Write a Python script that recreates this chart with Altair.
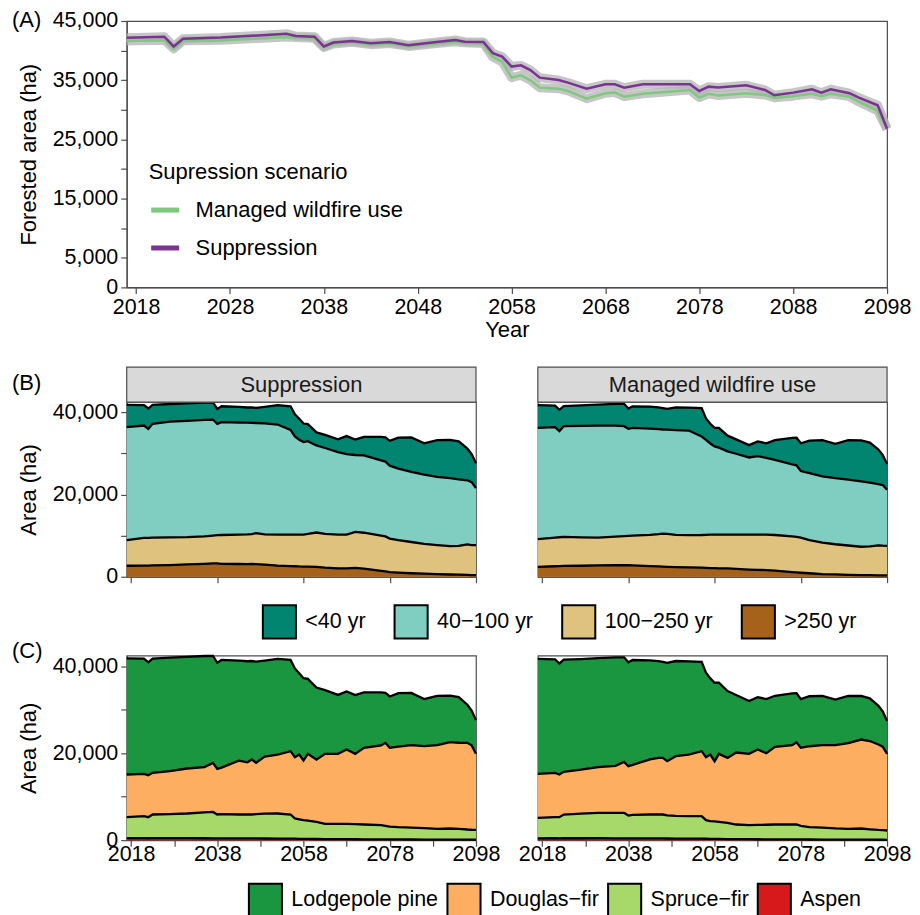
import altair as alt
import pandas as pd

# ---------------- Panel A: forested area per scenario ----------------
a_years = [2017, 2018, 2021, 2022, 2023, 2027, 2031, 2034, 2035, 2037,
           2038, 2039, 2041, 2043, 2045, 2047, 2050, 2052, 2053, 2055,
           2056, 2057, 2058, 2059, 2060, 2061, 2063, 2064, 2066, 2068,
           2069, 2070, 2072, 2074, 2077, 2078, 2079, 2080, 2083, 2085,
           2086, 2088, 2090, 2091, 2092, 2094, 2095, 2097, 2098]
a_suppression = [42180, 42200, 42350, 40700, 42000, 42200, 42550, 42850, 42450, 42350,
                 40700, 41350, 41620, 41250, 41450, 40900, 41450, 41800, 41500, 41450,
                 39550, 38970, 37300, 37500, 36700, 35430, 35040, 34590, 33570, 34310,
                 34310, 33740, 34310, 34310, 34310, 33180, 33910, 33750, 34140, 33350,
                 32450, 32900, 33470, 32900, 33470, 32800, 32050, 30770, 26800]
a_managed = [41600, 41650, 41750, 40300, 41650, 41750, 42050, 42300, 42200, 42100,
             40500, 41100, 41400, 41000, 41200, 40700, 41200, 41500, 41300, 41200,
             38900, 38080, 35430, 35830, 35000, 33740, 33570, 33180, 31880, 32800,
             32900, 32220, 32700, 32970, 33350, 32050, 32700, 32400, 32800, 32500,
             32050, 32300, 32700, 32300, 32700, 32220, 31320, 29810, 26700]

# ---------------- Panels B and C: stacked boundaries (top of each class) ----------------
years = [2017, 2021, 2022, 2023, 2027, 2031, 2035, 2037, 2038, 2039,
         2043, 2045, 2046, 2047, 2049, 2052, 2055, 2056, 2057, 2058,
         2059, 2061, 2063, 2066, 2068, 2070, 2072, 2076, 2077, 2078,
         2080, 2083, 2086, 2089, 2092, 2094, 2096, 2097, 2098]

sup_total = [41800, 41750, 40900, 41770, 42000, 42150, 42350, 42400, 40800, 41450,
             41300, 41150, 41200, 41050, 41300, 41700, 41450, 39500, 38400, 37250,
             37100, 35100, 34500, 33400, 34200, 33350, 34000, 34000, 33900, 33050,
             33800, 33850, 32450, 33200, 33250, 32900, 31150, 29800, 27600]
man_total = [41700, 41600, 40600, 41500, 41650, 41850, 42050, 42050, 40900, 41430,
             41350, 41200, 41000, 40800, 41200, 41100, 41000, 38500, 37200, 36200,
             36200, 34300, 33400, 32000, 32900, 32450, 33200, 33780, 33800, 32450,
             33100, 33200, 32330, 33200, 33150, 32600, 30900, 29600, 27400]

# age classes (B)
sup_top_40_100 = [36360, 36760, 35960, 37170, 37730, 37900, 38150, 38220, 37170, 37570,
                  37500, 37450, 37410, 37380, 37300, 37000, 35700, 34100, 33300, 32730,
                  32970, 31920, 31300, 30300, 29800, 29600, 29490, 28300, 28000, 27000,
                  26300, 25500, 24850, 24300, 24000, 23700, 23450, 23000, 21570]
sup_top_100_250 = [8890, 9450, 9450, 9500, 9550, 9620, 9800, 10000, 10100, 10150,
                   10260, 10300, 10350, 10600, 10300, 10260, 10260, 10260, 10260, 10260,
                   10400, 10750, 10400, 10260, 10260, 10910, 10700, 10000, 9800, 9290,
                   8900, 8450, 8000, 7680, 7430, 7510, 7850, 7700, 7680]
sup_top_250 = [2670, 2700, 2720, 2750, 2830, 3000, 3150, 3230, 3230, 3150,
               3100, 3050, 3100, 3070, 2950, 2700, 2600, 2550, 2500, 2480,
               2450, 2420, 2200, 2020, 2050, 2180, 1950, 1450, 1300, 1100,
               980, 850, 750, 650, 550, 500, 450, 420, 400]
man_top_40_100 = [36200, 36360, 35390, 36600, 36700, 36760, 36760, 36600, 35960, 36200,
                  36000, 35900, 35800, 35750, 35650, 35550, 34100, 33300, 32400, 31700,
                  31400, 30500, 29900, 29000, 29300, 28900, 28400, 27300, 27100, 25700,
                  25200, 24400, 24000, 23600, 23200, 22900, 22500, 22300, 21170]
man_top_100_250 = [9130, 9500, 9600, 9700, 9580, 9530, 9750, 9900, 9940, 10000,
                   10200, 10350, 10500, 10400, 10200, 10100, 10150, 10200, 10250, 10260,
                   10260, 10260, 10260, 10260, 10260, 10260, 10150, 9800, 9700, 9500,
                   8900, 8300, 7900, 7600, 7300, 7400, 7650, 7550, 7510]
man_top_250 = [2420, 2550, 2600, 2620, 2670, 2750, 2800, 2830, 2800, 2750,
               2600, 2500, 2450, 2420, 2350, 2300, 2200, 2150, 2100, 2080,
               2050, 2020, 1900, 1750, 1680, 1620, 1500, 1150, 1050, 970,
               850, 650, 570, 480, 400, 380, 340, 330, 320]

# species (C)
sup_top_douglas = [15100, 15250, 14940, 15480, 15900, 16480, 16800, 17780, 16400, 16700,
                   18300, 17900, 18550, 17800, 19200, 19690, 20460, 19080, 19690, 18320,
                   19850, 18550, 19850, 19850, 20840, 19850, 21230, 21800, 22380, 21230,
                   21500, 21840, 21610, 21840, 22530, 22400, 22380, 21800, 19850]
sup_top_spruce = [5290, 5520, 5290, 5900, 6000, 6130, 6400, 6500, 5900, 6000,
                  5900, 5900, 5900, 6000, 6100, 6130, 5900, 5000, 4800, 4600,
                  4500, 4200, 3750, 3750, 3750, 3700, 3600, 3450, 3300, 3100,
                  2990, 2900, 2750, 2610, 2680, 2600, 2450, 2400, 2380]
sup_top_aspen = [450, 460, 440, 450, 450, 460, 440, 430, 420, 420,
                 410, 400, 400, 390, 380, 370, 360, 340, 320, 300,
                 290, 270, 250, 230, 220, 210, 200, 190, 180, 170,
                 160, 150, 140, 130, 120, 120, 110, 110, 100]
man_top_douglas = [15250, 15480, 15100, 15710, 16200, 16780, 17100, 18010, 17010, 17300,
                   18600, 18930, 18930, 18160, 19310, 19690, 20460, 19080, 19690, 18160,
                   19850, 18930, 20150, 19850, 20840, 20000, 21460, 21840, 22530, 21230,
                   21600, 21840, 21840, 22300, 23140, 22800, 21990, 21500, 19850]
man_top_spruce = [5130, 5290, 5290, 5900, 6100, 6280, 6280, 6280, 5670, 5800,
                  5900, 5900, 5900, 5700, 5600, 5520, 5520, 4600, 4400, 4300,
                  4200, 3980, 3600, 3450, 3500, 3550, 3600, 3600, 3600, 3300,
                  3000, 2900, 2700, 2610, 2680, 2500, 2350, 2300, 2220]
man_top_aspen = [430, 440, 430, 440, 440, 450, 430, 420, 410, 410,
                 400, 390, 390, 380, 370, 360, 350, 330, 310, 290,
                 280, 260, 240, 220, 210, 200, 190, 180, 170, 160,
                 150, 140, 130, 120, 110, 110, 100, 100, 90]

SCEN = ["Suppression", "Managed wildfire use"]
AGE = ["<40 yr", "40\u2212100 yr", "100\u2212250 yr", ">250 yr"]
AGE_COLORS = ["#018571", "#80cdc1", "#dfc27d", "#a6611a"]
SPP = ["Lodgepole pine", "Douglas\u2212fir", "Spruce\u2212fir", "Aspen"]
SPP_COLORS = ["#1a9641", "#fdae61", "#a6d96a", "#d7191c"]
LINE_COLORS = ["#7fc97f", "#7b3294"]

# ---------------- tables ----------------
rows_a = []
for s, vals in [("Managed wildfire use", a_managed), ("Suppression", a_suppression)]:
    for y, v in zip(a_years, vals):
        rows_a.append({"year": y, "scenario": s, "area": v})
df_a = pd.DataFrame(rows_a)

zero = [0] * len(years)


def band_rows(scen, classes, bounds):
    out = []
    for i, c in enumerate(classes):
        hi, lo = bounds[i], bounds[i + 1]
        for y, h, l in zip(years, hi, lo):
            out.append({"scenario": scen, "group": c, "year": y, "hi": h, "lo": l})
    return pd.DataFrame(out)


b_tables = {
    "Suppression": band_rows("Suppression", AGE,
                             [sup_total, sup_top_40_100, sup_top_100_250, sup_top_250, zero]),
    "Managed wildfire use": band_rows("Managed wildfire use", AGE,
                                      [man_total, man_top_40_100, man_top_100_250, man_top_250, zero]),
}
c_tables = {
    "Suppression": band_rows("Suppression", SPP,
                             [sup_total, sup_top_douglas, sup_top_spruce, sup_top_aspen, zero]),
    "Managed wildfire use": band_rows("Managed wildfire use", SPP,
                                      [man_total, man_top_douglas, man_top_spruce, man_top_aspen, zero]),
}

GREY = "#4d4d4d"
TAG_X = -115
W_A, H_A = 762, 267
W, H_B, H_C = 350, 175, 185
GAP = 62
YMAX = 42450

# ---------------- Panel A ----------------
xA = alt.X("year:Q", scale=alt.Scale(domain=[2017, 2098], nice=False, zero=False),
           axis=alt.Axis(values=list(range(2018, 2099, 10)), format="d", title="Year",
                         titlePadding=2))
yA = alt.Y("area:Q", scale=alt.Scale(domain=[0, 45000], nice=False),
           axis=alt.Axis(values=list(range(0, 45001, 5000)), title="Forested area (ha)",
                         labelExpr="datum.value == 0 || datum.value % 10000 == 5000 ? format(datum.value, ',') : ''"))

base_a = alt.Chart(df_a)
band_a = base_a.mark_line(color="#b3b3b3", strokeWidth=9, opacity=0.75,
                          strokeJoin="round").encode(x=xA, y=yA, detail="scenario:N")
line_a = base_a.mark_line(strokeWidth=2.5).encode(
    x=xA, y=yA,
    color=alt.Color("scenario:N",
                    scale=alt.Scale(domain=["Managed wildfire use", "Suppression"], range=LINE_COLORS),
                    legend=alt.Legend(title="Supression scenario", orient="none",
                                      legendX=22, legendY=141, symbolType="stroke",
                                      symbolSize=784, symbolStrokeWidth=5, padding=0,
                                      titlePadding=10, rowPadding=10, labelOffset=14,
                                      labelFontSize=22, titleLimit=500)))
label_a = alt.Chart(pd.DataFrame({"t": ["(A)"]})).mark_text(
    align="left", baseline="middle", fontSize=22, color="black").encode(
    text="t:N", x=alt.value(TAG_X), y=alt.value(-1))
chart_a = alt.layer(band_a, line_a, label_a).properties(width=W_A, height=H_A)


# ---------------- Panels B / C ----------------
def panel(df, scen, classes, colors, height, show_labels, strip, tag, tag_y, legend, first):
    x = alt.X("year:Q", scale=alt.Scale(domain=[2017, 2098], nice=False, zero=False),
              axis=alt.Axis(values=list(range(2018, 2099, 10 if show_labels else 20)),
                            labels=show_labels, title=None, labelPadding=-3,
                            labelExpr="(datum.value - 2018) % 20 == 0 ? format(datum.value, 'd') : ''"))
    if first:
        yaxis = alt.Axis(values=list(range(0, 40001, 10000)), title="Area (ha)",
                         labelExpr="datum.value % 20000 == 0 ? format(datum.value, ',') : ''")
    else:
        yaxis = None
    y = alt.Y("hi:Q", scale=alt.Scale(domain=[0, YMAX], nice=False), axis=yaxis)
    base = alt.Chart(df)
    area = base.mark_area(opacity=1).encode(
        x=x, y=y, y2="lo:Q",
        color=alt.Color("group:N", scale=alt.Scale(domain=classes, range=colors), legend=legend))
    edge = base.mark_line(color="black", strokeWidth=2.3).encode(x=x, y=y, detail="group:N")
    layers = [area, edge]
    note = pd.DataFrame({"t": [scen]})
    if strip:
        layers.append(alt.Chart(note).mark_rect(fill="#d9d9d9", stroke=GREY, strokeWidth=1.2).encode(
            x=alt.value(0), x2=alt.value(W), y=alt.value(-35), y2=alt.value(0)))
        layers.append(alt.Chart(note).mark_text(fontSize=22, color="#1a1a1a").encode(
            text="t:N", x=alt.value(W / 2), y=alt.value(-17.5)))
    if first:
        layers.append(alt.Chart(pd.DataFrame({"t": [tag]})).mark_text(
            align="left", baseline="middle", fontSize=22, color="black").encode(
            text="t:N", x=alt.value(TAG_X), y=alt.value(tag_y)))
    return alt.layer(*layers).properties(width=W, height=height)


legend_b = alt.Legend(title=None, orient="none", legendX=135, legendY=202, direction="horizontal",
                      symbolType="square", symbolSize=1100, symbolStrokeColor="black",
                      symbolStrokeWidth=2, symbolOpacity=1, labelOffset=8, columnPadding=24,
                      labelFontSize=21.5, padding=0)
legend_c = alt.Legend(title=None, orient="none", legendX=121, legendY=227, direction="horizontal",
                      symbolType="square", symbolSize=1100, symbolStrokeColor="black",
                      symbolStrokeWidth=2, symbolOpacity=1, labelOffset=8, columnPadding=4,
                      labelFontSize=21.5, padding=0)

chart_b = alt.hconcat(
    *[panel(b_tables[s], s, AGE, AGE_COLORS, H_B, False, True, "(B)", -19, legend_b, i == 0)
      for i, s in enumerate(SCEN)],
    spacing=GAP, bounds="flush")
chart_c = alt.hconcat(
    *[panel(c_tables[s], s, SPP, SPP_COLORS, H_C, True, False, "(C)", -4.5, legend_c, i == 0)
      for i, s in enumerate(SCEN)],
    spacing=GAP, bounds="flush")

top = alt.vconcat(chart_a, chart_b, spacing=23).resolve_scale(color="independent")
chart = alt.vconcat(top, chart_c, spacing=-4).resolve_scale(color="independent").properties(
    padding={"left": 3, "top": -1, "right": 0, "bottom": 0},
    background="white",
).configure(font="Liberation Sans").configure_view(
    stroke=GREY, strokeWidth=1.2
).configure_axis(
    labelFontSize=21.5, labelColor="black", labelPadding=3, labelFlush=False, labelOverlap=False,
    titleFontSize=22, titleFontWeight="normal", titleColor="black", titlePadding=12,
    domainColor=GREY, domainWidth=1.2, tickColor=GREY, tickWidth=1.2, tickSize=6, grid=False,
).configure_legend(
    labelColor="black", titleFontSize=22, titleFontWeight="normal",
    titleColor="black", labelLimit=400, titleLimit=500,
)

chart.save("out.html", embed_options={"renderer": "svg", "actions": False})
